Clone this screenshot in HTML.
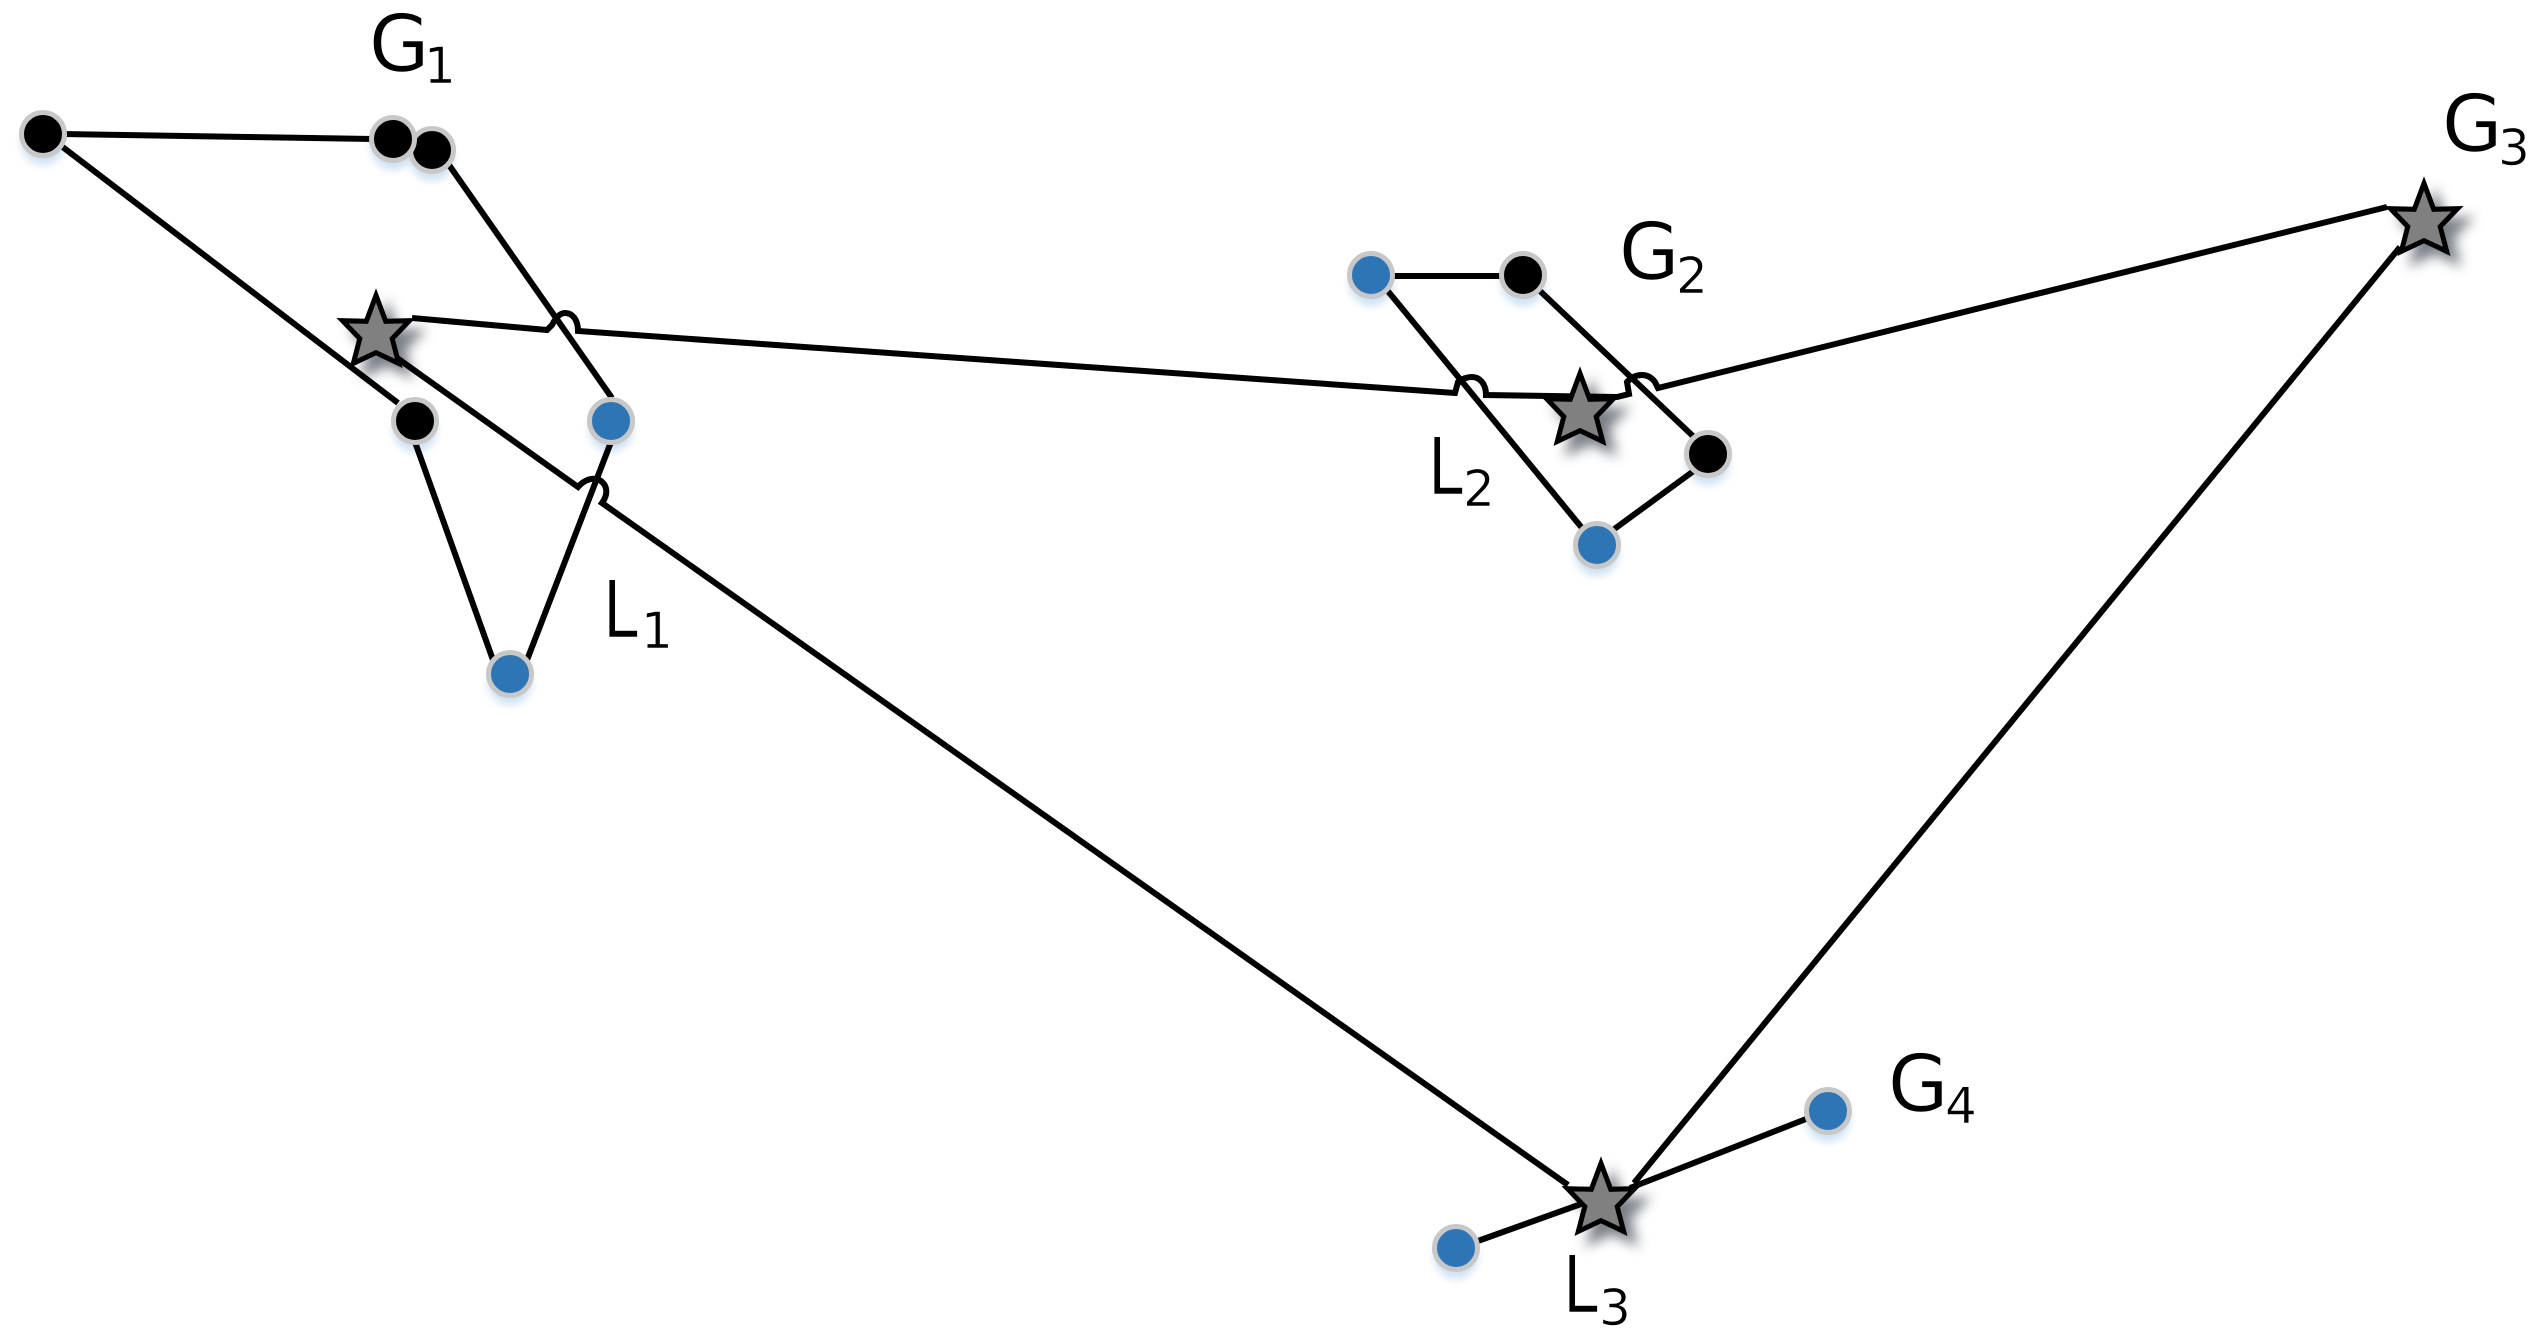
<!DOCTYPE html>
<html><head><meta charset="utf-8"><style>
html,body{margin:0;padding:0;background:#fff}
svg{display:block}
text{font-family:"DejaVu Sans",sans-serif;fill:#000;stroke:#fff;stroke-width:.6}
.b{font-size:78px}.s{font-size:50px}
.l{fill:none;stroke:#000;stroke-width:6}
</style></head><body>
<svg width="2546" height="1339" viewBox="0 0 2546 1339" xmlns="http://www.w3.org/2000/svg">
<defs>
<filter id="b1" x="-50%" y="-50%" width="200%" height="200%"><feGaussianBlur stdDeviation="4"/></filter>
<filter id="b2" x="-50%" y="-50%" width="200%" height="200%"><feGaussianBlur stdDeviation="6"/></filter>
<polygon id="star" points="0,-35.6 9.7,-9.7 33.5,-10.3 16.2,7.6 22.7,32.4 0,21.6 -22.7,32.4 -16.2,7.6 -33.5,-10.3 -9.7,-9.7"/>
</defs>
<rect width="2546" height="1339" fill="#fff"/>
<g fill="#cfe2f3" filter="url(#b1)">
<circle cx="43" cy="143" r="22"/><circle cx="393" cy="148" r="22"/><circle cx="432" cy="159" r="22"/>
<circle cx="415" cy="430" r="22"/><circle cx="611" cy="430" r="22"/><circle cx="510" cy="683" r="22"/>
<circle cx="1371" cy="284" r="22"/><circle cx="1523" cy="284" r="22"/><circle cx="1708" cy="463" r="22"/><circle cx="1597" cy="554" r="22"/>
<circle cx="1456" cy="1257" r="22"/><circle cx="1828" cy="1120" r="22"/>
</g>
<g fill="#5a616b" filter="url(#b2)" opacity=".8" stroke="#5a616b" stroke-width="5">
<use href="#star" x="387" y="342"/><use href="#star" x="1591" y="420"/><use href="#star" x="1612" y="1210"/><use href="#star" x="2435" y="230"/>
</g>
<g class="l">
<path d="M62 134L373 139"/>
<path d="M60 145L398 403"/>
<path d="M449 165L612 398"/>
<path d="M415 442L493 660"/>
<path d="M611 442L527 660"/>
<path d="M1390 276L1503 276"/>
<path d="M1539 290L1695 438"/>
<path d="M1695 470L1613 530"/>
<path d="M1582 528L1387 290"/>
<path d="M1475 1242L1584 1203"/>
<path d="M1630 1188L1806 1119"/>
<path d="M2400 247L1634 1183"/>
<path d="M397 358L578 487C583 481 590 478 596 479C606 481 610 492 602 503L1568 1185"/>
<path d="M412 318L547 330L552 325C556 317 560 313 565 313C572 313 578 319 578 331L1455 393L1458 382C1462 379 1466 377 1472 377C1479 377 1486 383 1486 395L1617 397L1629 394L1627 382C1632 377 1636 375 1642 375C1648 375 1652 378 1655 382L1658 388L2387 207"/>
</g>
<g fill="#808080" stroke="#000" stroke-width="5" stroke-miterlimit="6">
<use href="#star" x="376" y="331"/><use href="#star" x="1580" y="409"/><use href="#star" x="1601" y="1199"/><use href="#star" x="2424" y="219"/>
</g>
<g stroke="#c8c8c8" stroke-width="5">
<circle cx="43" cy="134" r="21.5" fill="#000"/><circle cx="432" cy="150" r="21.5" fill="#000"/><circle cx="393" cy="139" r="21.5" fill="#000"/>
<circle cx="415" cy="421" r="21.5" fill="#000"/><circle cx="611" cy="421" r="21.5" fill="#2e75b6"/><circle cx="510" cy="674" r="21.5" fill="#2e75b6"/>
<circle cx="1371" cy="275" r="21.5" fill="#2e75b6"/><circle cx="1523" cy="275" r="21.5" fill="#000"/><circle cx="1708" cy="454" r="21.5" fill="#000"/><circle cx="1597" cy="545" r="21.5" fill="#2e75b6"/>
<circle cx="1456" cy="1248" r="21.5" fill="#2e75b6"/><circle cx="1828" cy="1111" r="21.5" fill="#2e75b6"/>
</g>
<text class="b" x="369" y="71">G</text><text class="s" x="424" y="83">1</text>
<text class="b" x="1619" y="279">G</text><text class="s" x="1676" y="293">2</text>
<text class="b" x="2442" y="151">G</text><text class="s" x="2498" y="165">3</text>
<text class="b" x="1888" y="1111">G</text><text class="s" x="1945" y="1123">4</text>
<text class="b" transform="translate(603 637) scale(.8 1)" x="0" y="0">L</text><text class="s" x="641" y="648">1</text>
<text class="b" transform="translate(1428 494) scale(.8 1)" x="0" y="0">L</text><text class="s" x="1463" y="506">2</text>
<text class="b" transform="translate(1563 1312) scale(.8 1)" x="0" y="0">L</text><text class="s" x="1599" y="1325">3</text>
</svg>
</body></html>
